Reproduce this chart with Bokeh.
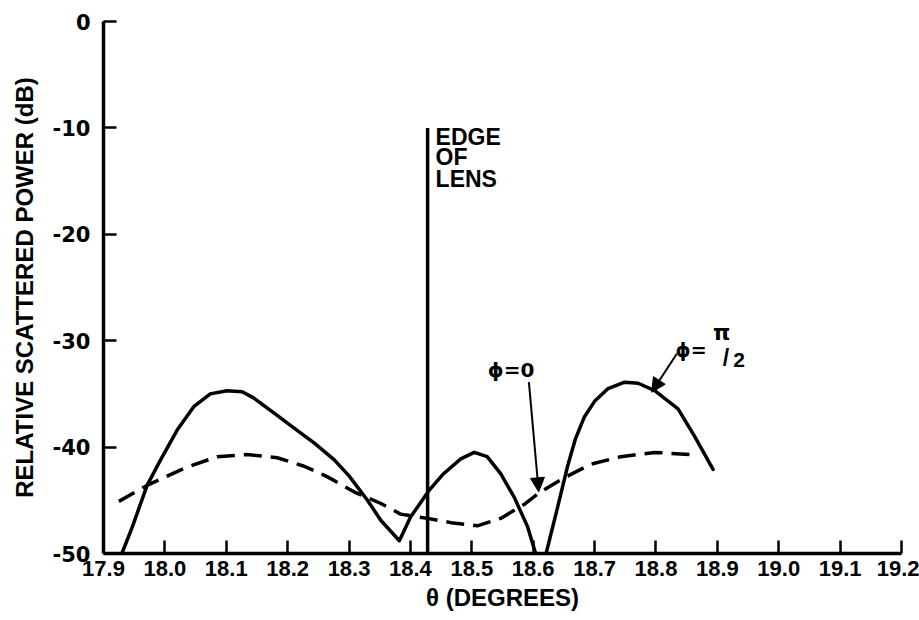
from bokeh.plotting import figure
from bokeh.models import Range1d, FixedTicker, Arrow, NormalHead, PrintfTickFormatter
from bokeh.core.properties import value
from bokeh.embed import file_html
from bokeh.resources import INLINE

# ---- data ----
x_ticks = [17.9, 18.0, 18.1, 18.2, 18.3, 18.4, 18.5, 18.6, 18.7, 18.8, 18.9, 19.0, 19.1, 19.2]
y_ticks = [0, -10, -20, -30, -40, -50]
y_tick_labels = ["0", "-10", "-20", "-30", "-40", "-50"]

# solid curve (phi = pi/2), two pieces separated by the dip below -50 dB
solid_a_x = [17.930, 17.947, 17.971, 17.993, 18.020, 18.047, 18.074, 18.101, 18.126, 18.145,
             18.178, 18.210, 18.243, 18.276, 18.300, 18.330, 18.352, 18.382, 18.400, 18.430,
             18.454, 18.482, 18.504, 18.525, 18.547, 18.569, 18.591, 18.604]
solid_a_y = [-50.0, -47.5, -43.6, -41.2, -38.4, -36.2, -35.0, -34.7, -34.8, -35.4,
             -36.8, -38.2, -39.6, -41.2, -42.7, -45.0, -46.9, -48.8, -46.6, -44.1,
             -42.5, -41.1, -40.5, -40.9, -42.5, -44.7, -47.5, -50.0]
solid_b_x = [18.621, 18.640, 18.656, 18.669, 18.683, 18.700, 18.722, 18.749, 18.771, 18.798,
             18.836, 18.863, 18.893]
solid_b_y = [-50.0, -45.6, -41.8, -39.2, -37.2, -35.7, -34.5, -33.9, -34.0, -34.7,
             -36.4, -39.0, -42.1]

# dashed curve (phi = 0)
dashed_x = [17.925, 17.971, 18.031, 18.085, 18.134, 18.183, 18.227, 18.265, 18.308, 18.352,
            18.384, 18.428, 18.466, 18.509, 18.547, 18.585, 18.612, 18.650, 18.694, 18.743,
            18.798, 18.858]
dashed_y = [-45.1, -43.6, -42.0, -40.9, -40.7, -41.0, -41.8, -42.8, -44.2, -45.3,
            -46.3, -46.7, -47.1, -47.4, -46.7, -45.4, -44.2, -42.9, -41.6, -40.9,
            -40.5, -40.7]

edge_x = 18.428
edge_y_top = -10.0

FONT = value("Liberation Sans")
GFONT = value("DejaVu Sans")

p = figure(width=919, height=620, output_backend="svg", toolbar_location=None,
           x_range=Range1d(17.9, 19.2), y_range=Range1d(-50, 0),
           min_border_left=103, min_border_right=18, min_border_top=21, min_border_bottom=67)
p.background_fill_color = "white"
p.border_fill_color = "white"
p.outline_line_color = None
p.grid.visible = False

# axes
for ax in (p.xaxis[0], p.yaxis[0]):
    ax.axis_line_width = 3.5
    ax.axis_line_color = "black"
    ax.major_tick_in = 13
    ax.major_tick_out = 0
    ax.major_tick_line_width = 2.5
    ax.major_tick_line_color = "black"
    ax.minor_tick_line_color = None
    ax.major_label_text_font_style = "bold"
    ax.major_label_text_color = "black"
    ax.axis_label_text_font = "Liberation Sans"
    ax.axis_label_text_font_style = "bold"
    ax.axis_label_text_font_size = "24px"
    ax.axis_label_text_color = "black"

p.xaxis[0].ticker = FixedTicker(ticks=x_ticks)
p.xaxis[0].formatter = PrintfTickFormatter(format="%.1f")
p.xaxis[0].major_label_text_font = "Liberation Sans"
p.xaxis[0].major_label_text_font_size = "22px"
p.xaxis[0].major_label_standoff = 7
p.xaxis[0].axis_label = "θ (DEGREES)"
p.xaxis[0].axis_label_standoff = 5

p.yaxis[0].ticker = FixedTicker(ticks=y_ticks)
p.yaxis[0].major_label_overrides = {t: s for t, s in zip(y_ticks, y_tick_labels)}
p.yaxis[0].major_label_text_font = "DejaVu Sans"
p.yaxis[0].major_label_text_font_size = "21px"
p.yaxis[0].major_label_standoff = 13
p.yaxis[0].axis_label = "RELATIVE SCATTERED POWER (dB)"
p.yaxis[0].axis_label_standoff = 12

# curves
p.line(solid_a_x, solid_a_y, line_width=3.5, color="black", line_join="round", line_cap="round")
p.line(solid_b_x, solid_b_y, line_width=3.5, color="black", line_join="round", line_cap="round")
p.line(dashed_x, dashed_y, line_width=3.5, color="black", line_dash="18 9", line_join="round")

# edge of lens marker
p.segment(x0=[edge_x], y0=[-50], x1=[edge_x], y1=[edge_y_top], line_width=3.5, color="black")
p.text(x=[18.441, 18.441, 18.441], y=[-10.85, -12.75, -14.8], text=["EDGE", "OF", "LENS"],
       text_font=FONT, text_font_style="bold", text_font_size="23px",
       text_baseline="alphabetic", text_align="left", text_color="black")

# phi = 0 label and arrow
p.text(x=[18.526], y=[-32.8], text=["ϕ=0"], text_font=GFONT, text_font_style="bold",
       text_font_size="20px", text_baseline="alphabetic", text_align="left", text_color="black")
p.add_layout(Arrow(end=NormalHead(size=14, fill_color="black", line_color="black", line_width=1),
                   x_start=18.593, y_start=-33.9, x_end=18.609, y_end=-44.2,
                   line_width=2, line_color="black"))

# phi = pi/2 label and arrow
p.text(x=[18.832], y=[-30.9], text=["ϕ="], text_font=GFONT, text_font_style="bold",
       text_font_size="19px", text_baseline="alphabetic", text_align="left", text_color="black")
p.text(x=[18.893], y=[-29.2], text=["π"], text_font=GFONT, text_font_style="bold",
       text_font_size="22px", text_baseline="alphabetic", text_align="left", text_color="black")
p.text(x=[18.909], y=[-31.6], text=["/"], text_font=FONT, text_font_style="bold",
       text_font_size="23px", text_baseline="alphabetic", text_align="left", text_color="black")
p.text(x=[18.926], y=[-31.8], text=["2"], text_font=FONT, text_font_style="bold",
       text_font_size="21px", text_baseline="alphabetic", text_align="left", text_color="black")
p.add_layout(Arrow(end=NormalHead(size=14, fill_color="black", line_color="black", line_width=1),
                   x_start=18.834, y_start=-31.23, x_end=18.793, y_end=-34.84,
                   line_width=2, line_color="black"))

open("out.html", "w").write(file_html(p, INLINE))
